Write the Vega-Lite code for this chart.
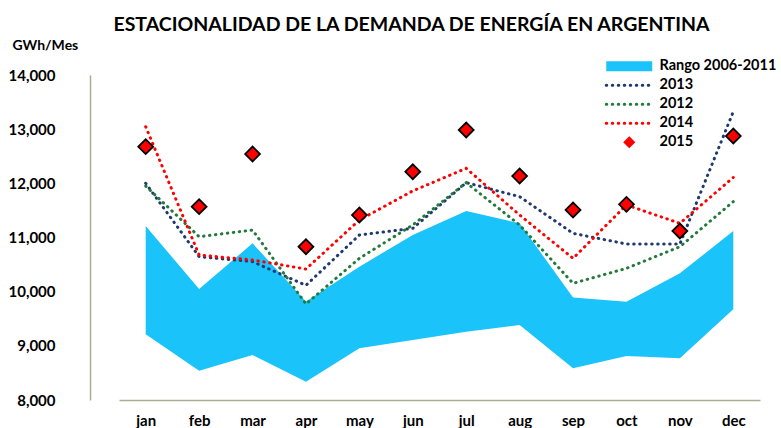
{
  "$schema": "https://vega.github.io/schema/vega-lite/v6.json",
  "width": 691,
  "height": 325,
  "autosize": {"type": "none"},
  "padding": {"left": 90, "top": 75, "right": 0, "bottom": 28},
  "background": "white",
  "config": {"view": {"stroke": null}, "font": "Lato"},
  "title": {
    "text": "ESTACIONALIDAD DE LA DEMANDA DE ENERGÍA EN  ARGENTINA",
    "font": "Lato", "fontSize": 19.5, "fontWeight": "bold", "color": "black",
    "anchor": "middle", "frame": "group", "dx": -24, "dy": 21, "offset": 9, "baseline": "alphabetic"
  },
  "datasets": {
    "range": [
      {"mes": "jan", "min": 9213, "max": 11212, "serie": "Rango 2006-2011"},
      {"mes": "feb", "min": 8542, "max": 10049, "serie": "Rango 2006-2011"},
      {"mes": "mar", "min": 8831, "max": 10892, "serie": "Rango 2006-2011"},
      {"mes": "apr", "min": 8338, "max": 9820, "serie": "Rango 2006-2011"},
      {"mes": "may", "min": 8954, "max": 10462, "serie": "Rango 2006-2011"},
      {"mes": "jun", "min": 9108, "max": 11046, "serie": "Rango 2006-2011"},
      {"mes": "jul", "min": 9262, "max": 11489, "serie": "Rango 2006-2011"},
      {"mes": "aug", "min": 9385, "max": 11262, "serie": "Rango 2006-2011"},
      {"mes": "sep", "min": 8585, "max": 9892, "serie": "Rango 2006-2011"},
      {"mes": "oct", "min": 8812, "max": 9815, "serie": "Rango 2006-2011"},
      {"mes": "nov", "min": 8769, "max": 10338, "serie": "Rango 2006-2011"},
      {"mes": "dec", "min": 9674, "max": 11120, "serie": "Rango 2006-2011"}
    ],
    "lines": [
      {"mes": "jan", "serie": "2013", "value": 12000},
      {"mes": "feb", "serie": "2013", "value": 10646},
      {"mes": "mar", "serie": "2013", "value": 10554},
      {"mes": "apr", "serie": "2013", "value": 10117},
      {"mes": "may", "serie": "2013", "value": 11046},
      {"mes": "jun", "serie": "2013", "value": 11169},
      {"mes": "jul", "serie": "2013", "value": 12012},
      {"mes": "aug", "serie": "2013", "value": 11754},
      {"mes": "sep", "serie": "2013", "value": 11077},
      {"mes": "oct", "serie": "2013", "value": 10880},
      {"mes": "nov", "serie": "2013", "value": 10880},
      {"mes": "dec", "serie": "2013", "value": 13323},
      {"mes": "jan", "serie": "2012", "value": 11950},
      {"mes": "feb", "serie": "2012", "value": 11015},
      {"mes": "mar", "serie": "2012", "value": 11138},
      {"mes": "apr", "serie": "2012", "value": 9772},
      {"mes": "may", "serie": "2012", "value": 10615},
      {"mes": "jun", "serie": "2012", "value": 11231},
      {"mes": "jul", "serie": "2012", "value": 12012},
      {"mes": "aug", "serie": "2012", "value": 11231},
      {"mes": "sep", "serie": "2012", "value": 10154},
      {"mes": "oct", "serie": "2012", "value": 10431},
      {"mes": "nov", "serie": "2012", "value": 10830},
      {"mes": "dec", "serie": "2012", "value": 11662},
      {"mes": "jan", "serie": "2014", "value": 13045},
      {"mes": "feb", "serie": "2014", "value": 10677},
      {"mes": "mar", "serie": "2014", "value": 10585},
      {"mes": "apr", "serie": "2014", "value": 10418},
      {"mes": "may", "serie": "2014", "value": 11323},
      {"mes": "jun", "serie": "2014", "value": 11860},
      {"mes": "jul", "serie": "2014", "value": 12277},
      {"mes": "aug", "serie": "2014", "value": 11415},
      {"mes": "sep", "serie": "2014", "value": 10615},
      {"mes": "oct", "serie": "2014", "value": 11600},
      {"mes": "nov", "serie": "2014", "value": 11262},
      {"mes": "dec", "serie": "2014", "value": 12108}
    ],
    "p2015": [
      {"mes": "jan", "serie": "2015", "value": 12677},
      {"mes": "feb", "serie": "2015", "value": 11569},
      {"mes": "mar", "serie": "2015", "value": 12541},
      {"mes": "apr", "serie": "2015", "value": 10830},
      {"mes": "may", "serie": "2015", "value": 11415},
      {"mes": "jun", "serie": "2015", "value": 12215},
      {"mes": "jul", "serie": "2015", "value": 12985},
      {"mes": "aug", "serie": "2015", "value": 12135},
      {"mes": "sep", "serie": "2015", "value": 11508},
      {"mes": "oct", "serie": "2015", "value": 11612},
      {"mes": "nov", "serie": "2015", "value": 11120},
      {"mes": "dec", "serie": "2015", "value": 12873}
    ]
  },
  "encoding": {
    "x": {
      "field": "mes", "type": "nominal",
      "scale": {"type": "point", "domain": ["jan","feb","mar","apr","may","jun","jul","aug","sep","oct","nov","dec"], "range": [29, 670]},
      "axis": {
        "title": null, "labelAngle": 0, "labelFont": "Lato", "labelFontSize": 15, "labelFontWeight": "bold",
        "labelColor": "black", "labelPadding": 13, "ticks": false, "grid": false,
        "domainColor": "#A9AF93", "domainWidth": 1.5
      }
    },
    "color": {
      "field": "serie", "type": "nominal",
      "scale": {
        "domain": ["Rango 2006-2011", "2013", "2012", "2014", "2015"],
        "range": ["#1BC3FB", "#1F3A6E", "#237A3C", "#FF0000", "#FF0000"]
      },
      "legend": {
        "title": null, "orient": "none", "legendX": 532, "legendY": -16,
        "labelFont": "Lato", "labelFontSize": 14.5, "labelFontWeight": "bold", "labelColor": "black",
        "symbolSize": 2116, "labelOffset": 23, "rowPadding": 4,
        "encode": {
          "symbols": {
            "update": {
              "shape": {"signal": "datum.value === '2015' ? 'diamond' : datum.value === 'Rango 2006-2011' ? 'M-1,-0.22H1V0.22H-1Z' : 'stroke'"},
              "size": {"signal": "datum.value === '2015' ? 100 : 2116"},
              "fill": {"signal": "datum.value === 'Rango 2006-2011' ? '#1BC3FB' : datum.value === '2015' ? '#FF0000' : 'transparent'"},
              "stroke": {"signal": "datum.value === '2015' ? 'black' : datum.value === '2013' ? '#1F3A6E' : datum.value === '2012' ? '#237A3C' : datum.value === '2014' ? '#FF0000' : 'transparent'"},
              "strokeWidth": {"signal": "datum.value === '2015' ? 1.5 : datum.value === 'Rango 2006-2011' ? 0 : 3"},
              "strokeDash": {"signal": "(datum.value === '2015' || datum.value === 'Rango 2006-2011') ? [] : [0.5, 5.5]"},
              "strokeCap": {"value": "round"},
              "opacity": {"value": 1}
            }
          }
        }
      }
    }
  },
  "layer": [
    {
      "data": {"name": "range"},
      "mark": {"type": "area", "opacity": 1},
      "encoding": {
        "y": {
          "field": "min", "type": "quantitative",
          "scale": {"domain": [8000, 14000], "nice": false, "zero": false},
          "axis": {
            "title": "GWh/Mes", "titleAngle": 0, "titleAlign": "left", "titleBaseline": "middle",
            "titleX": -78, "titleY": -30, "titleFont": "Lato", "titleFontSize": 14, "titleFontWeight": "bold", "titleColor": "black",
            "values": [8000, 9000, 10000, 11000, 12000, 13000, 14000], "format": ",d",
            "labelFont": "Lato", "labelFontSize": 15, "labelFontWeight": "bold", "labelColor": "black",
            "labelPadding": 35, "ticks": false, "grid": false, "domainColor": "#A9AF93", "domainWidth": 1.5
          }
        },
        "y2": {"field": "max"}
      }
    },
    {
      "data": {"name": "lines"},
      "mark": {"type": "line", "strokeDash": [0.5, 5.5], "strokeCap": "round", "strokeWidth": 3},
      "encoding": {
        "y": {"field": "value", "type": "quantitative"}
      }
    },
    {
      "data": {"name": "p2015"},
      "mark": {"type": "point", "shape": "diamond", "filled": true, "size": 220, "stroke": "black", "strokeWidth": 1.8, "opacity": 1},
      "encoding": {
        "y": {"field": "value", "type": "quantitative"}
      }
    }
  ]
}
